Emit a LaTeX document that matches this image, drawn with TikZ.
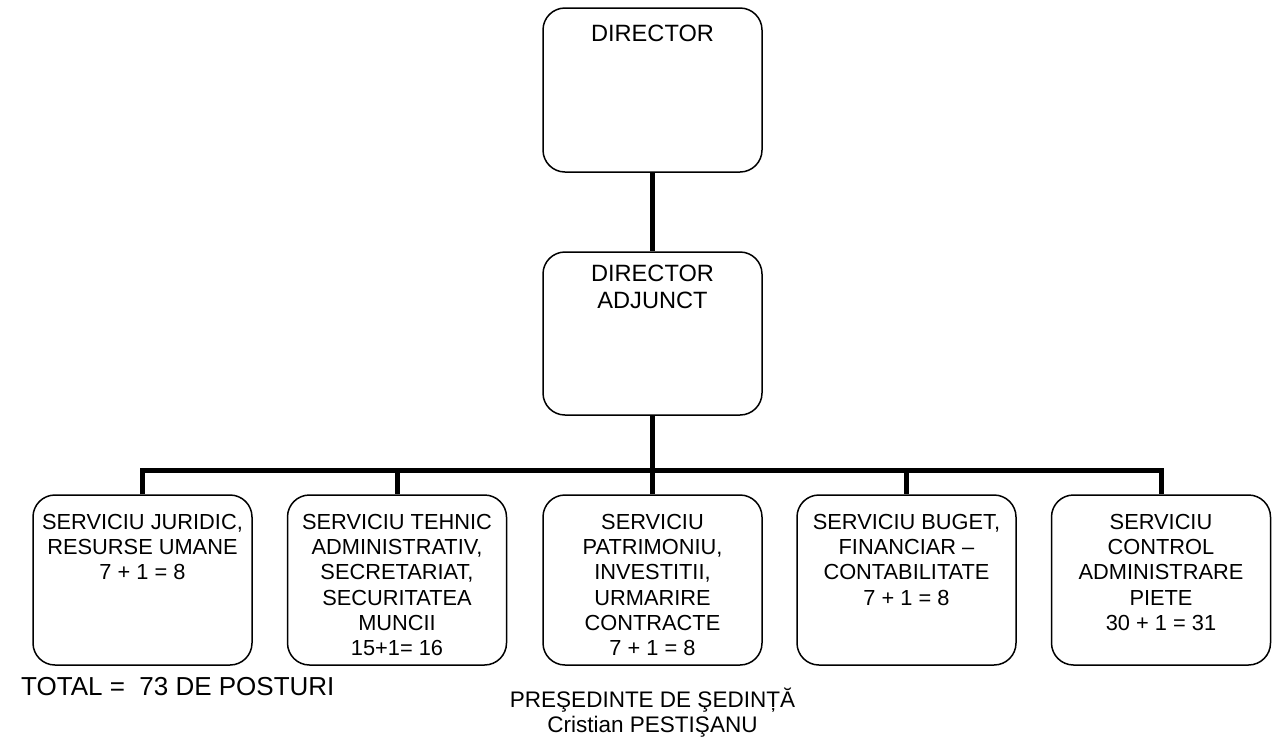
\documentclass[tikz,border=0pt]{standalone}
\usepackage{fontspec}
\setmainfont{Liberation Sans}
\begin{document}
\begin{tikzpicture}[x=1pt,y=-1pt,
  orgbox/.style={draw, line width=1.5pt, rounded corners=22pt, inner sep=0pt, minimum width=219pt, minimum height=#1},
  bigtxt/.style={anchor=north, align=center, inner sep=0pt, font=\fontsize{23.6}{26.7}\selectfont},
  txt/.style={anchor=north, align=center, inner sep=0pt, font=\fontsize{21.8}{25.2}\selectfont},
  foot/.style={inner sep=0pt, font=\fontsize{22.5}{25}\selectfont},
  conn/.style={line width=5pt}]
\useasboundingbox (0,0) rectangle (1279,745);

\node[orgbox=164pt] (dir) at (652.5,90) {};
\node[bigtxt] (dirt) at (652.5,25) {DIRECTOR};
\node[orgbox=163pt] (adj) at (652.5,333.5) {};
\node[bigtxt] (adjt) at (652.5,265) {DIRECTOR\\ADJUNCT};

\node[orgbox=170pt] (b1) at (142.5,580) {};
\node[orgbox=170pt] (b2) at (397,580) {};
\node[orgbox=170pt] (b3) at (652.5,580) {};
\node[orgbox=170pt] (b4) at (906.5,580) {};
\node[orgbox=170pt] (b5) at (1161,580) {};

\node[txt] (t1) at (142.5,514) {SERVICIU JURIDIC,\\RESURSE UMANE\\7 + 1 = 8};
\node[txt] (t2) at (397,514) {SERVICIU TEHNIC\\ADMINISTRATIV,\\SECRETARIAT,\\SECURITATEA\\MUNCII\\15+1= 16};
\node[txt] (t3) at (652.5,514) {SERVICIU\\PATRIMONIU,\\INVESTITII,\\URMARIRE\\CONTRACTE\\7 + 1 = 8};
\node[txt] (t4) at (906.5,514) {SERVICIU BUGET,\\FINANCIAR –\\CONTABILITATE\\7 + 1 = 8};
\node[txt] (t5) at (1161,514) {SERVICIU\\CONTROL\\ADMINISTRARE\\PIETE\\30 + 1 = 31};

\coordinate (bus) at (652.5,470.5);
\draw[conn] (dir.south) -- (adj.north);
\draw[conn] (adj.south) -- (bus);
\draw[conn] (b1.north) -- (b1.north |- bus) -- (b5.north |- bus) -- (b5.north);
\foreach \b in {b2,b3,b4} \draw[conn] (\b.north |- bus) -- (\b.north);

\node[inner sep=0pt, font=\fontsize{26}{30}\selectfont, anchor=base west] (total) at (21,695) {TOTAL =\ \ 73 DE POSTURI};
\node[foot, anchor=base] (pres) at (652.5,707) {PREŞEDINTE DE ŞEDINȚĂ};
\node[foot, anchor=base] (name) at (652.5,732) {Cristian PESTIŞANU};
\end{tikzpicture}
\end{document}
